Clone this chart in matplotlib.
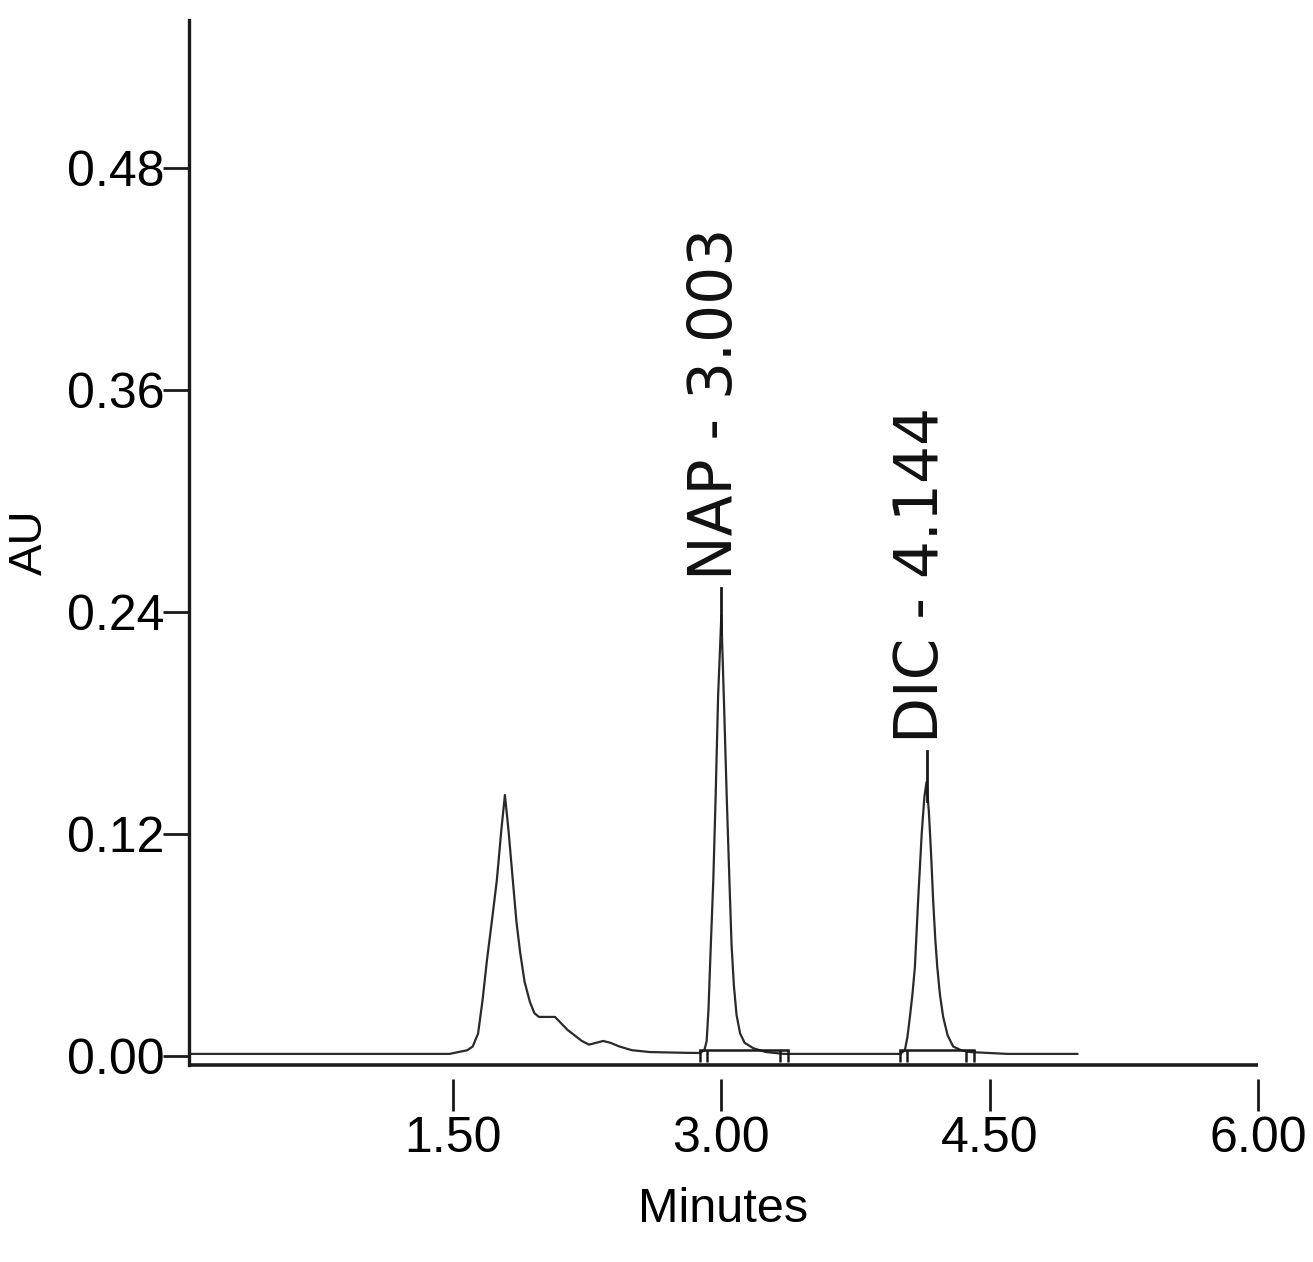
import matplotlib
matplotlib.use("Agg")
import matplotlib.pyplot as plt

# ---- data ----
time_min = [0.024, 0.5, 1.0, 1.40, 1.48, 1.53, 1.58, 1.61, 1.64, 1.665, 1.69, 1.72,
            1.745, 1.77, 1.79, 1.81, 1.835, 1.855, 1.875, 1.90, 1.93, 1.955, 1.98,
            2.03, 2.07, 2.10, 2.14, 2.18, 2.22, 2.26, 2.30, 2.34, 2.38, 2.43, 2.50,
            2.60, 2.79,
            2.88, 2.905, 2.918, 2.928, 2.94, 2.955, 2.968, 2.982, 3.0, 3.015, 3.03,
            3.045, 3.057, 3.07, 3.085, 3.105, 3.13, 3.18, 3.25, 3.35,
            3.6, 4.0, 4.026, 4.04, 4.054, 4.068, 4.082, 4.10, 4.12, 4.135, 4.147,
            4.16, 4.172, 4.184, 4.196, 4.207, 4.222, 4.24, 4.265, 4.296, 4.34, 4.39,
            4.6, 4.99]
absorbance = [0.001, 0.001, 0.001, 0.001, 0.001, 0.002, 0.003, 0.005, 0.012, 0.030,
              0.052, 0.075, 0.095, 0.122, 0.141, 0.122, 0.094, 0.072, 0.056, 0.040,
              0.029, 0.023, 0.021, 0.021, 0.021, 0.018, 0.014, 0.011, 0.008, 0.006,
              0.007, 0.008, 0.007, 0.005, 0.003, 0.002, 0.0016,
              0.0015, 0.003, 0.008, 0.025, 0.057, 0.095, 0.140, 0.195, 0.238, 0.190,
              0.140, 0.095, 0.060, 0.038, 0.022, 0.012, 0.007, 0.004, 0.002, 0.001,
              0.001, 0.001, 0.003, 0.010, 0.021, 0.033, 0.048, 0.084, 0.120, 0.140,
              0.148, 0.132, 0.110, 0.084, 0.063, 0.048, 0.033, 0.021, 0.011, 0.005,
              0.003, 0.002, 0.001, 0.001]

peak_names = ["NAP - 3.003", "DIC - 4.144"]
peak_times = [3.0, 4.147]
peak_apex = [0.238, 0.148]
label_tops = [0.253, 0.165]
integ_start = [2.88, 4.00]
integ_end = [3.37, 4.41]

x_ticks = [1.50, 3.00, 4.50, 6.00]
x_tick_labels = ["1.50", "3.00", "4.50", "6.00"]
y_ticks = [0.00, 0.12, 0.24, 0.36, 0.48]
y_tick_labels = ["0.00", "0.12", "0.24", "0.36", "0.48"]

W, H = 1313, 1262
fig = plt.figure(figsize=(W / 100, H / 100), dpi=100)
ax = fig.add_axes([189 / W, (H - 1065) / H, (1258 - 189) / W, (1065 - 20) / H])

ax.set_xlim(0.024, 6.0)
ax.set_ylim(-0.005, 0.56)

line_col = "#1a1a1a"
ax.plot(time_min, absorbance, color="#2a2a2a", lw=1.6, solid_joinstyle="round")

# integration baselines and start/end marks
for s, e in zip(integ_start, integ_end):
    ax.plot([s, e], [0.003, 0.003], color=line_col, lw=1.8)
    ax.plot([s, s + 0.04, e - 0.04, e], [0.0, 0.0, 0.0, 0.0], linestyle="none",
            marker="|", markersize=9, mew=1.8, color=line_col)

# label lines and labels
for name, t, ap, top in zip(peak_names, peak_times, peak_apex, label_tops):
    ax.plot([t, t], [ap - 0.01, top], color=line_col, lw=2.0)
    ax.text(t - 0.03, top + 0.004, name, rotation=90, ha="center", va="bottom",
            fontsize=43, family=["DejaVu Sans"], color="#111111")

# spines
for s in ["top", "right"]:
    ax.spines[s].set_visible(False)
ax.spines["left"].set_linewidth(2.4)
ax.spines["left"].set_color(line_col)
ax.spines["bottom"].set_position(("outward", 10))
ax.spines["bottom"].set_visible(False)
ax.plot([0.024, 6.0], [-0.005, -0.005], color=line_col, lw=2.6, clip_on=False,
        solid_capstyle="butt")

tick_font = ["Liberation Sans"]
ax.set_xticks(x_ticks)
ax.set_xticklabels(x_tick_labels, family=tick_font, fontsize=36)
ax.set_yticks(y_ticks)
ax.set_yticklabels(y_tick_labels, family=tick_font, fontsize=36)
ax.tick_params(axis="x", direction="out", length=23, width=2.0, color=line_col, pad=4)
ax.tick_params(axis="y", direction="out", length=18.5, width=2.0, color=line_col, pad=-1)

ax.set_xlabel("Minutes", family=tick_font, fontsize=35, labelpad=18)
fig.text(30 / W, 1 - 542 / H, "AU", rotation=90, ha="center", va="center",
         family=["Liberation Sans"], fontsize=34)

fig.savefig("out.png", dpi=100, facecolor="white")
